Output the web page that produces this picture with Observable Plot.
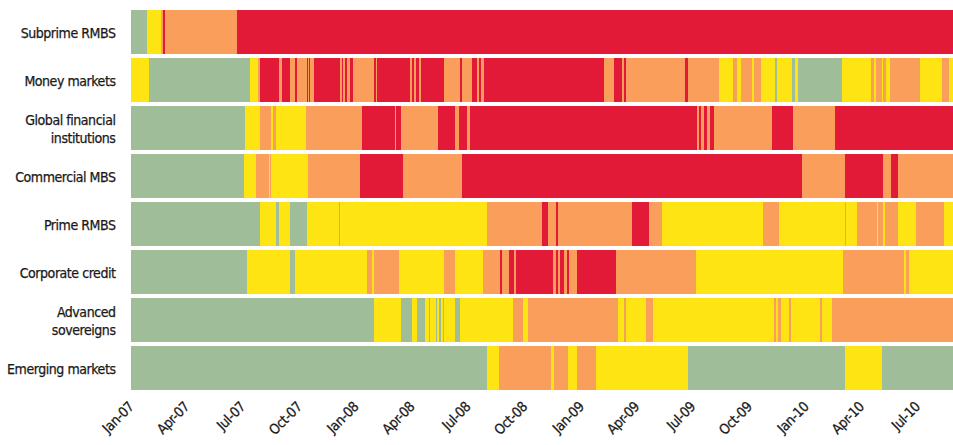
<!DOCTYPE html>
<html><head><meta charset="utf-8">
<script src="https://cdn.jsdelivr.net/npm/d3@7"></script>
<script src="https://cdn.jsdelivr.net/npm/@observablehq/plot@0.6"></script>
<style>
body{margin:0;background:#fff;}
#chart svg{display:block;}
#chart svg text{font-family:'DejaVu Sans Condensed','DejaVu Sans',sans-serif;font-stretch:condensed;letter-spacing:-0.45px;stroke:#1a1a1a;stroke-width:0.25px;}
</style>
</head><body><div id="chart"></div>
<script>
// Risk level codes: 0 = green, 1 = yellow, 2 = orange, 3 = red
const levelColors = ["#9fbd98", "#ffe414", "#f99e5b", "#e31a37"];
const startDate = "2007-01-01";
const endDate = "2010-08-28";

const categories = ["Subprime RMBS", "Money markets", "Global financial\ninstitutions", "Commercial MBS",
  "Prime RMBS", "Corporate credit", "Advanced\nsovereigns", "Emerging markets"];

const tickDates = ["2007-01-01","2007-04-01","2007-07-01","2007-10-01","2008-01-01","2008-04-01","2008-07-01","2008-10-01",
  "2009-01-01","2009-04-01","2009-07-01","2009-10-01","2010-01-01","2010-04-01","2010-07-01"];
const tickLabels = ["Jan-07","Apr-07","Jul-07","Oct-07","Jan-08","Apr-08","Jul-08","Oct-08",
  "Jan-09","Apr-09","Jul-09","Oct-09","Jan-10","Apr-10","Jul-10"];

// Each row: [start date of segment, level]
const subprimeRMBS = [["2007-01-01",0],["2007-01-27",1],["2007-02-19",2],["2007-02-22",3],["2007-02-25",2],["2007-06-22",3]];

const moneyMarkets = [["2007-01-01",1],["2007-01-30",0],["2007-07-13",1],["2007-07-26",2],["2007-07-29",3],["2007-08-30",2],
  ["2007-09-04",3],["2007-09-16",2],["2007-09-25",3],["2007-09-28",2],["2007-10-14",3],["2007-10-16",2],["2007-10-17",3],
  ["2007-10-19",2],["2007-10-25",3],["2007-12-06",2],["2007-12-09",3],["2007-12-12",2],["2007-12-15",3],["2007-12-17",2],
  ["2007-12-22",3],["2007-12-27",2],["2008-01-30",3],["2008-02-03",2],["2008-02-05",3],["2008-03-29",2],["2008-04-01",3],
  ["2008-04-05",2],["2008-04-08",3],["2008-04-13",2],["2008-04-16",3],["2008-05-24",2],["2008-06-19",3],["2008-06-22",2],
  ["2008-07-08",3],["2008-07-16",2],["2008-07-19",3],["2008-07-22",2],["2008-07-27",3],["2009-02-07",2],["2009-02-24",3],
  ["2009-03-09",2],["2009-03-11",3],["2009-03-15",2],["2009-06-19",3],["2009-06-23",2],["2009-08-13",1],["2009-08-19",2],
  ["2009-08-20",1],["2009-09-05",2],["2009-09-11",1],["2009-09-18",2],["2009-10-05",1],["2009-10-09",2],["2009-10-20",1],
  ["2009-11-12",0],["2009-11-15",1],["2009-12-09",0],["2009-12-14",1],["2009-12-19",0],["2010-03-01",1],["2010-04-17",2],
  ["2010-04-21",1],["2010-04-25",2],["2010-05-05",1],["2010-05-07",2],["2010-05-11",1],["2010-05-18",2],["2010-07-06",1],
  ["2010-08-10",2],["2010-08-21",1]];

const globalFinancial = [["2007-01-01",0],["2007-07-05",1],["2007-07-29",2],["2007-08-17",1],["2007-08-20",2],["2007-08-25",1],
  ["2007-10-13",2],["2008-01-11",3],["2008-03-04",2],["2008-03-07",3],["2008-03-15",2],["2008-05-14",3],["2008-06-11",2],
  ["2008-06-16",3],["2008-06-29",2],["2008-07-04",3],["2009-07-09",2],["2009-07-12",3],["2009-07-15",2],["2009-07-19",3],
  ["2009-07-25",2],["2009-07-30",3],["2009-08-05",2],["2009-11-07",3],["2009-12-11",2],["2010-02-17",3]];

const commercialMBS = [["2007-01-01",0],["2007-07-03",1],["2007-07-23",2],["2007-08-13",1],["2007-08-15",2],["2007-08-17",1],
  ["2007-10-16",2],["2008-01-08",3],["2008-03-18",2],["2008-06-21",3],["2009-12-26",2],["2010-03-06",3],["2010-05-07",2],
  ["2010-05-20",3],["2010-05-31",2]];

const primeRMBS = [["2007-01-01",0],["2007-07-29",1],["2007-08-24",0],["2007-08-29",1],["2007-09-17",0],["2007-10-14",1],
  ["2007-12-04",0],["2007-12-07",1],["2008-08-01",2],["2008-10-30",3],["2008-11-08",2],["2008-11-22",3],["2008-11-25",2],
  ["2009-03-25",3],["2009-04-22",2],["2009-05-13",1],["2009-10-23",2],["2009-11-19",1],["2010-03-05",2],["2010-03-08",1],
  ["2010-03-25",2],["2010-04-26",1],["2010-04-29",2],["2010-05-07",1],["2010-05-10",2],["2010-05-31",1],["2010-06-29",2],
  ["2010-08-13",1]];

const corporateCredit = [["2007-01-01",0],["2007-07-08",1],["2007-09-17",0],["2007-09-25",1],["2008-01-19",2],["2008-01-22",1],
  ["2008-01-23",2],["2008-01-28",1],["2008-01-30",2],["2008-03-12",1],["2008-05-24",2],["2008-06-10",1],["2008-07-26",2],
  ["2008-08-23",3],["2008-08-26",2],["2008-09-06",3],["2008-09-14",2],["2008-09-17",3],["2008-11-17",2],["2008-11-22",3],
  ["2008-11-25",2],["2008-11-28",3],["2008-12-04",2],["2008-12-09",3],["2008-12-12",2],["2008-12-25",3],["2009-02-26",2],
  ["2009-07-06",1],["2010-03-03",2],["2010-06-09",1],["2010-06-12",2],["2010-06-18",1]];

const advancedSovereigns = [["2007-01-01",0],["2008-01-30",1],["2008-03-15",0],["2008-04-02",1],["2008-04-09",0],["2008-04-23",1],
  ["2008-04-25",0],["2008-04-26",1],["2008-04-29",0],["2008-05-01",1],["2008-05-11",0],["2008-05-12",1],["2008-05-15",0],
  ["2008-05-18",1],["2008-05-21",0],["2008-05-23",1],["2008-06-10",0],["2008-06-18",1],["2008-09-13",2],["2008-09-28",1],
  ["2008-10-07",2],["2009-03-02",1],["2009-03-12",2],["2009-03-15",1],["2009-04-16",2],["2009-04-27",1],["2009-11-10",2],
  ["2009-11-14",1],["2009-11-16",2],["2009-11-22",1],["2009-12-05",2],["2009-12-08",1],["2010-01-24",2],["2010-01-27",1],
  ["2010-02-12",2]];

const emergingMarkets = [["2007-01-01",0],["2008-08-01",1],["2008-08-20",2],["2008-11-13",1],["2008-11-18",2],["2008-12-11",1],
  ["2008-12-25",2],["2009-01-26",1],["2009-06-23",0],["2010-03-05",1],["2010-05-04",0]];

const rowSeries = [subprimeRMBS, moneyMarkets, globalFinancial, commercialMBS, primeRMBS, corporateCredit, advancedSovereigns, emergingMarkets];

const parse = d3.utcParse("%Y-%m-%d");
const segments = [];
rowSeries.forEach((series, r) => {
  series.forEach(([s, lvl], i) => {
    const e = i + 1 < series.length ? series[i + 1][0] : endDate;
    segments.push({row: categories[r], x1: parse(s), x2: parse(e), level: lvl});
  });
});
const tickMap = new Map(tickDates.map((d, i) => [+parse(d), tickLabels[i]]));

const chart = Plot.plot({
  width: 953,
  height: 445,
  marginLeft: 131,
  marginRight: 0,
  marginTop: 8,
  marginBottom: 53,
  style: {fontSize: "14px", color: "#1a1a1a", background: "#fff"},
  x: {type: "utc", domain: [parse(startDate), parse(endDate)], label: null},
  y: {domain: categories, paddingInner: 0.08, paddingOuter: 0, label: null},
  marks: [
    Plot.barX(segments, {x1: "x1", x2: "x2", y: "row", fill: d => levelColors[d.level], shapeRendering: "crispEdges"}),
    Plot.axisY({tickSize: 0, tickPadding: 16, label: null, fontSize: 14, lineHeight: 1.3}),
    Plot.axisX({ticks: tickDates.map(parse), tickFormat: d => tickMap.get(+d), tickRotate: -45, tickSize: 0, tickPadding: 12, label: null, fontSize: 14})
  ]
});
document.getElementById("chart").appendChild(chart);
</script>
</body></html>
